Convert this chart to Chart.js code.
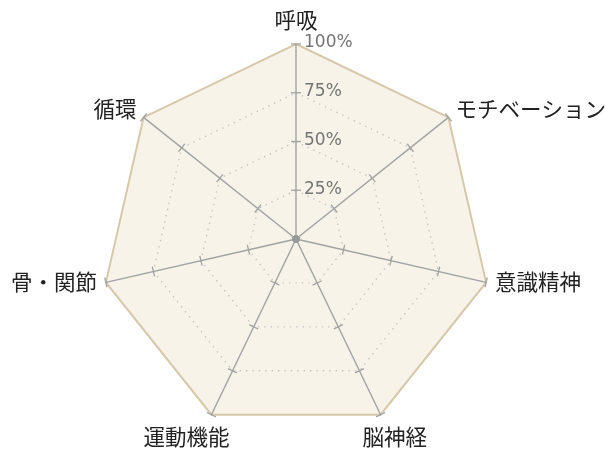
<!DOCTYPE html>
<html>
<head>
<meta charset="utf-8">
<script src="https://cdn.jsdelivr.net/npm/chart.js@4/dist/chart.umd.min.js"></script>
<style>
  html, body { margin: 0; padding: 0; background: #fff; }
  #wrap { width: 606px; height: 453px; }
</style>
</head>
<body>
<div id="wrap"><canvas id="chart1"></canvas></div>
<script>
  // ====== データ ======
  const labels = ['呼吸', 'モチベーション', '意識精神', '脳神経', '運動機能', '骨・関節', '循環'];
  const scores = [0, 0, 0, 0, 0, 0, 0];
  const tickValues = [25, 50, 75, 100];

  // 軸上の目盛り（短い線）・% ラベル・項目名
  const axisDeco = {
    id: 'axisDeco',
    afterDatasetsDraw(chart) {
      const s = chart.scales.r;
      const ctx = chart.ctx;
      ctx.save();

      // 目盛り線
      ctx.strokeStyle = '#a2a2a2';
      ctx.lineWidth = 1.3;
      labels.forEach((_, i) => {
        const a = s.getIndexAngle(i) - Math.PI / 2;
        const nx = -Math.sin(a), ny = Math.cos(a);
        tickValues.forEach(v => {
          const p = s.getPointPositionForValue(i, v);
          ctx.beginPath();
          ctx.moveTo(p.x - nx * 5, p.y - ny * 5);
          ctx.lineTo(p.x + nx * 5, p.y + ny * 5);
          ctx.stroke();
        });
      });

      // % ラベル（上の軸の右側）
      ctx.fillStyle = '#757575';
      ctx.font = '17px "DejaVu Sans"';
      ctx.textAlign = 'left';
      ctx.textBaseline = 'middle';
      tickValues.forEach(v => {
        const p = s.getPointPositionForValue(0, v);
        ctx.fillText(v + '%', p.x + 8, p.y - 1);
      });

      // 項目名
      ctx.fillStyle = '#222';
      ctx.font = '21.5px "Noto Sans CJK JP"';
      labels.forEach((text, i) => {
        const ang = s.getIndexAngle(i);
        const sin = Math.sin(ang), cos = Math.cos(ang);
        const p = s.getPointPosition(i, s.drawingArea + 9);
        let x = p.x, y = p.y;
        ctx.textAlign = Math.abs(sin) < 0.05 ? 'center' : (sin > 0 ? 'left' : 'right');
        if (cos > 0.9) {
          y -= 15;
        } else if (cos < -0.8) {
          y += 14;
          x -= Math.sign(sin) * 22;
        } else {
          y -= 3;
        }
        ctx.fillText(text, x, y);
      });
      ctx.restore();
    }
  };

  new Chart(document.getElementById('chart1'), {
    type: 'radar',
    data: {
      labels: labels,
      datasets: [{
        label: 'スコア',
        data: scores,
        borderWidth: 0,
        pointRadius: 3.5,
        pointBackgroundColor: '#999',
        pointBorderWidth: 0,
        fill: false
      }]
    },
    options: {
      responsive: true,
      maintainAspectRatio: false,
      animation: false,
      layout: { padding: { top: 44, bottom: 19, left: 0, right: 13 } },
      plugins: { legend: { display: false }, tooltip: { enabled: false } },
      scales: {
        r: {
          min: 0,
          max: 100,
          backgroundColor: '#f7f3e8',
          ticks: { stepSize: 25, display: false },
          grid: {
            circular: false,
            color: c => c.index === 4 ? '#d6c8ab' : '#c4c4c4',
            lineWidth: c => c.index === 4 ? 2 : 1.4
          },
          border: { dash: c => c.index === 4 ? [] : [1.4, 5] },
          angleLines: { color: '#a2a2a2', lineWidth: 1.4 },
          pointLabels: { display: false }
        }
      }
    },
    plugins: [axisDeco]
  });
</script>
</body>
</html>
